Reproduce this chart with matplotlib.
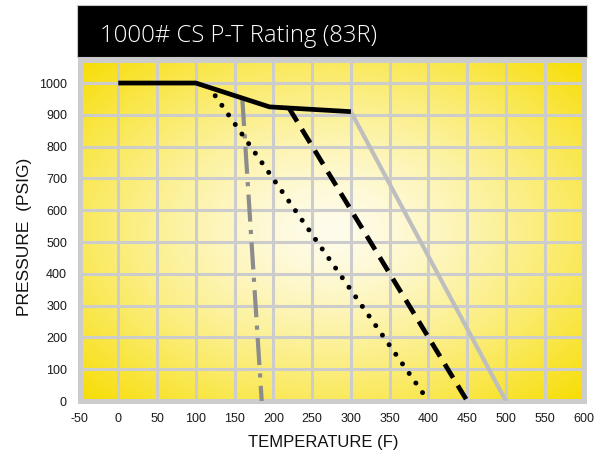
import numpy as np
import matplotlib
matplotlib.use("Agg")
import matplotlib.pyplot as plt
from matplotlib.patches import Rectangle

plt.rcParams['font.family'] = ['Liberation Sans', 'DejaVu Sans']
plt.rcParams['lines.scale_dashes'] = False
plt.rcParams['axes.unicode_minus'] = False

# Pressure-temperature rating curves (temperature in F, pressure in PSIG)
solid_temp = [0, 100, 195, 300]
solid_psig = [1000, 1000, 925, 910]

gray_temp = [300, 500]
gray_psig = [910, 0]

dashed_temp = [220, 450]
dashed_psig = [922, 0]

dotted_temp = [125, 400]
dotted_psig = [960, 0]

dashdot_temp = [160, 185]
dashdot_psig = [950, 0]

x_ticks = list(range(-50, 601, 50))
y_ticks = list(range(0, 1001, 100))
title = "1000# CS P-T Rating (83R)"

W, H = 601, 453
fig = plt.figure(figsize=(W / 100, H / 100), dpi=100)

def px_box(x0, y0, x1, y1):
    return [x0 / W, 1 - y1 / H, (x1 - x0) / W, (y1 - y0) / H]

ax = fig.add_axes(px_box(79.5, 59.5, 583.5, 401))
ax.set_xlim(-50, 600)
ax.set_ylim(0, 1074)

# radial yellow backdrop
nx, ny = 400, 300
gx = np.linspace(-1, 1, nx)
gy = np.linspace(-1, 1, ny)
XX, YY = np.meshgrid(gx, gy)
r = np.sqrt((XX ** 2 + YY ** 2) / 2.0)
t = np.clip(r, 0, 1) ** 1.4
center = np.array([255, 252, 236]) / 255.0
edge = np.array([247, 221, 0]) / 255.0
img = center[None, None, :] * (1 - t[..., None]) + edge[None, None, :] * t[..., None]
ax.imshow(img, extent=(0, 1, 0, 1), transform=ax.transAxes, aspect='auto',
          zorder=0, interpolation='bilinear')

ax.set_xticks(x_ticks)
ax.set_yticks(y_ticks)
ax.grid(True, color='#cccccc', linewidth=2.2)
ax.set_axisbelow('line')
ax.tick_params(length=0, labelsize=9, colors='#1a1a1a')
ax.tick_params(axis='x', pad=9)
ax.tick_params(axis='y', pad=9)
for s in ax.spines.values():
    s.set_color('#cccccc')
    s.set_linewidth(3.6)

ax.plot(gray_temp, gray_psig, color='#bebebe', linewidth=3.0,
        solid_capstyle='butt', zorder=3)
ax.plot(dashdot_temp, dashdot_psig, color='#8c8c8c', linewidth=3.0,
        dashes=(19.5, 6, 3, 6), dash_capstyle='butt', zorder=3)
ax.plot(dotted_temp, dotted_psig, color='black', linewidth=3.6,
        dashes=(0.01, 8.4), dash_capstyle='round', zorder=4)
ax.plot(dashed_temp, dashed_psig, color='black', linewidth=3.4,
        dashes=(11.5, 6.5), dash_capstyle='butt', zorder=4)
ax.plot(solid_temp, solid_psig, color='black', linewidth=3.4,
        solid_capstyle='butt', solid_joinstyle='miter', zorder=5)

ax.set_xlabel("TEMPERATURE (F)", fontsize=12, color='#111111')
ax.set_ylabel("PRESSURE  (PSIG)", fontsize=12.5, color='#111111')
ax.xaxis.set_label_coords(0.483, -0.10)
ax.yaxis.set_label_coords(-0.094, 0.48)

# title banner
bx = px_box(76.5, 5.5, 586.5, 57)
fig.patches.append(Rectangle((bx[0], bx[1]), bx[2], bx[3], transform=fig.transFigure,
                             facecolor='black', edgecolor='#c8c8c8', linewidth=0.8,
                             zorder=1))
fig.text(100 / W, 1 - 42 / H, title, color='white', fontsize=17.2,
         family=['Open Sans', 'DejaVu Sans'], fontweight='light', va='baseline', ha='left',
         zorder=5)

fig.savefig("out.png", dpi=100)
